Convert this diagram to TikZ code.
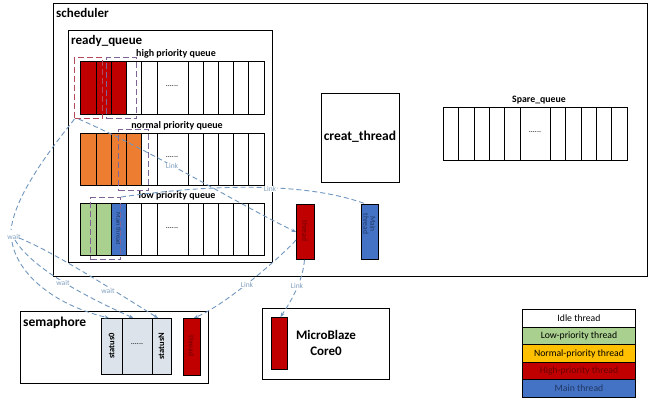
\documentclass[tikz,border=0pt]{standalone}
\usepackage{fontspec}
\setmainfont{Carlito}
\usetikzlibrary{arrows.meta}
\definecolor{hired}{HTML}{C00000}
\definecolor{normor}{HTML}{ED7D31}
\definecolor{lowgr}{HTML}{A9D08E}
\definecolor{mainbl}{HTML}{4472C4}
\definecolor{legyel}{HTML}{FFC000}
\definecolor{semcell}{HTML}{DCE3EA}
\definecolor{lnk}{HTML}{7096BE}
\definecolor{lnktxt}{HTML}{7F9FBF}
\definecolor{dpurple}{HTML}{7F6496}
\definecolor{dred}{HTML}{B5495B}
\definecolor{darkred}{HTML}{6A0000}
\definecolor{navy}{HTML}{1F3864}
\tikzset{
  box/.style={draw=black, line width=0.9pt, anchor=north west, inner sep=0pt},
  cellline/.style={draw=black, line width=0.9pt},
  dbox/.style={draw=dpurple, line width=1pt, dash pattern=on 6pt off 3pt, anchor=north west, inner sep=0pt},
  rbox/.style={draw=dred, line width=1pt, dash pattern=on 6pt off 3pt, anchor=north west, inner sep=0pt},
  conn/.style={draw=lnk, line width=0.9pt, dash pattern=on 5pt off 3pt},
  arr/.style={conn, -{Stealth[length=4.5pt,width=3.5pt]}},
  lbl/.style={text=lnktxt, font=\fontsize{7.5}{7.5}\selectfont, inner sep=0.5pt},
  title/.style={font=\fontsize{13}{13}\selectfont\bfseries, anchor=west, inner sep=0pt},
  qlbl/.style={font=\fontsize{10}{10}\selectfont\bfseries, inner sep=0pt},
  dots/.style={font=\fontsize{8}{8}\selectfont},
  legrow/.style={draw=black, line width=0.9pt, anchor=north west, minimum width=113pt, minimum height=17.6pt, inner sep=0pt, font=\fontsize{9.7}{9.7}\selectfont},
}
\begin{document}
\begin{tikzpicture}[x=1pt,y=-1pt]
\useasboundingbox (0,0) rectangle (650,400);

% scheduler
\node[box, minimum width=594pt, minimum height=273pt] (sched) at (53,3) {};
\node[title] (schedl) at (56,13) {scheduler};
% ready queue
\node[box, minimum width=204pt, minimum height=232pt] (ready) at (68,30) {};
\node[title] (readyl) at (71,41) {ready\_queue};

% high priority queue
\foreach \a/\b/\c in {80/96/hired,96/111/hired,111/126/hired,126/141/white,141/157/white,157/188/white,188/203/white,203/218/white,218/233/white,233/248/white,248/264/white}
  \draw[cellline, fill=\c] (\a,61) rectangle (\b,114);
\node[qlbl] (hql) at (176,54) {high priority queue};
\node[dots] (hqd) at (172,86) {......};

% normal priority queue
\foreach \a/\b/\c in {80/96/normor,96/111/normor,111/126/normor,126/141/normor,141/157/white,157/188/white,188/203/white,203/218/white,218/233/white,233/248/white,248/264/white}
  \draw[cellline, fill=\c] (\a,133) rectangle (\b,185);
\node[qlbl] (nql) at (177,126) {normal priority queue};
\node[dots] (nqd) at (172,157) {......};

% low priority queue
\foreach \a/\b/\c in {80/96/lowgr,96/111/lowgr,111/126/mainbl,126/141/white,141/157/white,157/188/white,188/203/white,203/218/white,218/233/white,233/248/white,248/264/white}
  \draw[cellline, fill=\c] (\a,203) rectangle (\b,255);
\node[rotate=-90, font=\fontsize{6.5}{6.5}\selectfont, text=navy] (lqm) at (118.5,229) {Main thread};
\node[qlbl] (lql) at (177,196) {low priority queue};
\node[dots] (lqd) at (172,228) {......};

% dashed selection boxes
\node[rbox, minimum width=28pt, minimum height=61pt] (hr) at (74,57) {};
\node[dbox, minimum width=30pt, minimum height=61pt] (hp) at (106,57) {};
\node[dbox, minimum width=30pt, minimum height=61pt] (np) at (118,129) {};
\node[dbox, minimum width=30pt, minimum height=62pt] (lp) at (90,197) {};

% creat_thread
\node[box, minimum width=78pt, minimum height=89pt] (creat) at (321,93) {};
\node[font=\fontsize{13.5}{13.5}\selectfont\bfseries] (creatl) at (360,137) {creat\_thread};

% spare queue
\foreach \a/\b in {443/458,458/474,474/489,489/504,504/520,520/550,550/565,565/581,581/596,596/611,611/627}
  \draw[cellline] (\a,107) rectangle (\b,160);
\node[font=\fontsize{9.8}{9.8}\selectfont\bfseries] (sql) at (539,100) {Spare\_queue};
\node[dots] (sqd) at (535,132) {......};

% running thread and main thread
\node[box, fill=hired, minimum width=18pt, minimum height=55pt] (thr) at (296,204) {};
\node[rotate=-90, font=\fontsize{7.5}{7.5}\selectfont, text=darkred] (thrl) at (305,231) {thread};
\node[box, fill=mainbl, minimum width=17pt, minimum height=55pt] (mth) at (361,204) {};
\node[rotate=-90, font=\fontsize{7.5}{7}\selectfont, text=navy, align=center] (mthl) at (369.5,224) {Main\\thread};

% semaphore
\node[box, minimum width=188pt, minimum height=72pt] (sem) at (20,311) {};
\node[title, font=\fontsize{13.5}{13.5}\selectfont\bfseries] (seml) at (23,323) {semaphore};
\node[box, fill=semcell, minimum width=21pt, minimum height=56pt] (s0) at (101,318) {};
\node[rotate=90, font=\fontsize{8.5}{8.5}\selectfont\bfseries] (s0l) at (111.5,346) {status0};
\node[box, fill=semcell, minimum width=30pt, minimum height=56pt] (sd) at (122,318) {};
\node[dots] (sdl) at (137,344) {......};
\node[box, fill=semcell, minimum width=19pt, minimum height=56pt] (sn) at (152,318) {};
\node[rotate=90, font=\fontsize{8.5}{8.5}\selectfont\bfseries] (snl) at (161.5,346) {statusN};
\node[box, fill=hired, minimum width=17pt, minimum height=57pt] (st) at (183,318) {};
\node[rotate=-90, font=\fontsize{7.5}{7.5}\selectfont, text=darkred] (stl) at (191.5,346) {thread};

% MicroBlaze
\node[box, minimum width=127pt, minimum height=71pt] (mb) at (262,308) {};
\node[box, fill=hired, minimum width=16pt, minimum height=52pt] (mbr) at (271,317) {};
\node[font=\fontsize{13}{16}\selectfont\bfseries, align=center] (mbl) at (326,343) {MicroBlaze\\Core0};

% legend
\node[legrow, fill=white] (lg1) at (522,309) {Idle thread};
\node[legrow, fill=lowgr] (lg2) at (522,326.6) {Low-priority thread};
\node[legrow, fill=legyel] (lg3) at (522,344.2) {Normal-priority thread};
\node[legrow, fill=hired, text=darkred] (lg4) at (522,361.8) {High-priority thread};
\node[legrow, fill=mainbl, text=navy] (lg5) at (522,379.4) {Main thread};

% connectors
\coordinate (w) at (11,230);
\draw[conn] ([xshift=-14pt]hr.south) .. controls (50,150) and (15,195) .. (w);
\node[lbl] (wl1) at (14,237) {wait};
\draw[arr] (12,242) .. controls (18,275) and (55,305) .. ([xshift=-3pt]s0.north);
\draw[arr] (15,240) .. controls (30,265) and (75,292) .. ([xshift=-4pt]sd.north);
\draw[arr] (19,238) .. controls (50,250) and (110,288) .. ([xshift=-4pt]sn.north);
\node[lbl, fill=white] (wl2) at (63,283) {wait};
\node[lbl, fill=white] (wl3) at (108,291) {wait};

\draw[arr] ([xshift=-10pt]hr.south) .. controls (150,150) and (240,205) .. ([yshift=-28pt]thr.north west);
\node[lbl, fill=white] (ll1) at (172,166) {Link};

\draw[conn] (lp.north east) .. controls (220,183) and (309,183) .. ([xshift=-4pt]mth.north);
\node[lbl, fill=white] (ll2) at (270,189) {Link};

\draw[arr] ([xshift=-1pt]thr.south) .. controls (303,280) and (292,300) .. ([xshift=1pt]mbr.north);
\node[lbl, fill=white] (ll3) at (297,286) {Link};

\draw[arr] ([yshift=-36pt]thr.north west) .. controls (280,258) and (225,305) .. ([xshift=2pt]st.north);
\node[lbl, fill=white] (ll4) at (247,285) {Link};
\end{tikzpicture}
\end{document}
